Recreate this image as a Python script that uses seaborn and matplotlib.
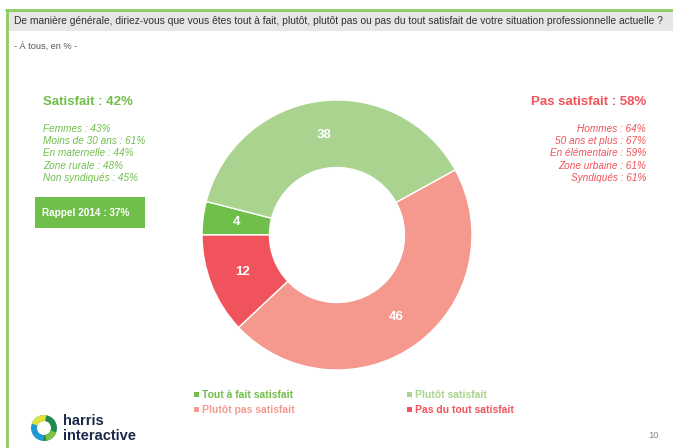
import seaborn as sns
import matplotlib.pyplot as plt
import matplotlib.patches as mpatches

# data
categories = ["Tout à fait satisfait", "Plutôt satisfait", "Plutôt pas satisfait", "Pas du tout satisfait"]
values = [4, 38, 46, 12]
colors = ["#70BF4A", "#A9D38E", "#F5998E", "#F0535B"]

title = "De manière générale, diriez-vous que vous êtes tout à fait, plutôt, plutôt pas ou pas du tout satisfait de votre situation professionnelle actuelle ?"
subtitle = "- À tous, en % -"
sat_title = "Satisfait : 42%"
sat_lines = ["Femmes : 43%", "Moins de 30 ans : 61%", "En maternelle : 44%", "Zone rurale : 48%", "Non syndiqués : 45%"]
rappel = "Rappel 2014 : 37%"
notsat_title = "Pas satisfait : 58%"
notsat_lines = ["Hommes : 64%", "50 ans et plus : 67%", "En élémentaire : 59%", "Zone urbaine : 61%", "Syndiqués : 61%"]

sns.set_theme(style="white")
plt.rcParams['font.family'] = ['Liberation Sans', 'DejaVu Sans']

W, H = 673, 448
fig = plt.figure(figsize=(W / 100, H / 100), dpi=100)
fig.patch.set_facecolor("white")

# background axes in pixel coords (y downwards)
bg = fig.add_axes([0, 0, 1, 1])
bg.set_xlim(0, W)
bg.set_ylim(H, 0)
bg.axis("off")

green = "#70BF4A"
red = "#F0535B"

# frame lines + header band
bg.add_patch(mpatches.Rectangle((8, 11), W - 8, 20, color="#E6E6E6", lw=0))
bg.plot([6, W], [10, 10], color="#8CCB5E", lw=2)
bg.plot([7, 7], [10, H], color="#8CCB5E", lw=2)
bg.text(14, 21, title, fontsize=7.4, color="#333333", va="center", ha="left")
bg.text(14, 46, subtitle, fontsize=6.6, color="#555555", va="center", ha="left")

# left block
bg.text(43, 102, sat_title, fontsize=9.5, fontweight="bold", color=green, va="center")
for i, s in enumerate(sat_lines):
    bg.text(43, 129 + i * 12.2, s, fontsize=7.2, style="italic", color=green, va="center")
bg.add_patch(mpatches.Rectangle((35, 197), 110, 31, color=green, lw=0))
bg.text(42, 212.5, rappel, fontsize=7.2, fontweight="bold", color="white", va="center")

# right block
bg.text(646, 102, notsat_title, fontsize=9.5, fontweight="bold", color=red, va="center", ha="right")
for i, s in enumerate(notsat_lines):
    bg.text(646, 129 + i * 12.2, s, fontsize=7.2, style="italic", color=red, va="center", ha="right")

# legend
leg_pos = [(196, 395), (409, 395), (196, 410), (409, 410)]
for (x, y), lab, c in zip(leg_pos, categories, colors):
    bg.add_patch(mpatches.Rectangle((x - 2.5, y - 2.5), 5, 5, color=c, lw=0))
    bg.text(x + 6, y, lab, fontsize=7.5, fontweight="bold", color=c, va="center")

# logo
lx, ly = 44, 428
bg.add_patch(mpatches.Wedge((lx, ly), 13, 90, 270, width=6, color="#1F9AD6", lw=0))
bg.add_patch(mpatches.Wedge((lx, ly), 13, -90, 90, width=6, color="#1E8A4C", lw=0))
bg.add_patch(mpatches.Wedge((lx, ly), 13, 200, 280, width=6, color="#E4E23A", lw=0))
bg.add_patch(mpatches.Wedge((lx, ly), 13, 20, 80, width=6, color="#7CC243", lw=0))
bg.text(63, 421, "harris", fontsize=10.5, fontweight="bold", color="#1B2A4A", va="center")
bg.text(63, 436, "interactive", fontsize=10.5, fontweight="bold", color="#1B2A4A", va="center")
bg.text(648, 436, "10", fontsize=6.8, color="#888888", va="center")

# donut
cx, cy, R = 337, 235, 135
ax = fig.add_axes([(cx - R) / W, (H - cy - R) / H, 2 * R / W, 2 * R / H])
ax.pie(values, colors=colors, startangle=180, counterclock=False, radius=1,
       autopct=lambda p: f"{round(p)}", pctdistance=0.75,
       wedgeprops=dict(width=0.5, edgecolor="white", linewidth=1),
       textprops=dict(color="white", fontweight="bold", fontsize=9.5))
ax.set_xlim(-1, 1)
ax.set_ylim(-1, 1)

fig.savefig("out.png", dpi=100)
